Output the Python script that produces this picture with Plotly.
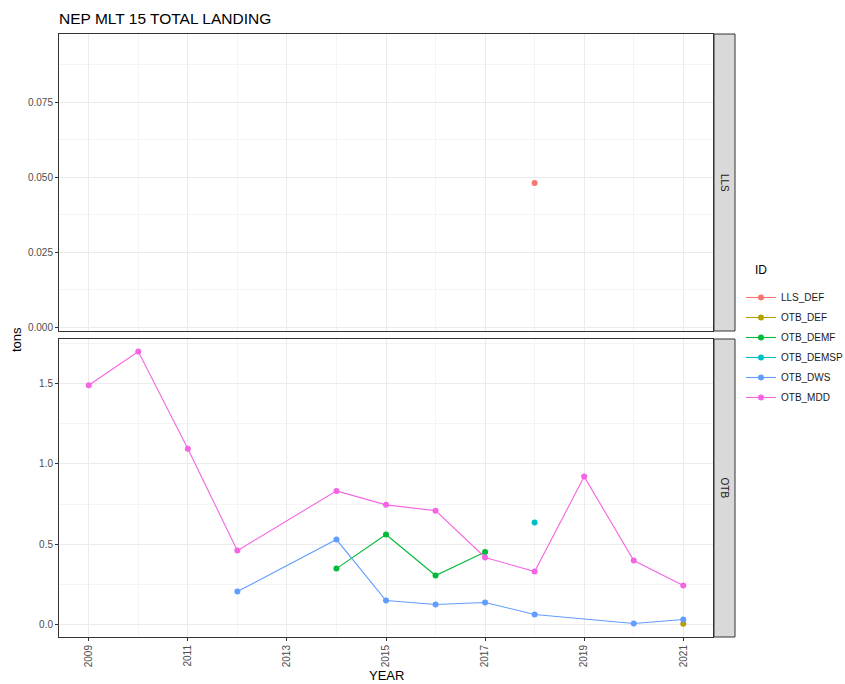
import plotly.graph_objects as go

# ---- data ----
series_ids = ["LLS_DEF", "OTB_DEF", "OTB_DEMF", "OTB_DEMSP", "OTB_DWS", "OTB_MDD"]
series_gear = ["LLS", "OTB", "OTB", "OTB", "OTB", "OTB"]
series_colors = ["#F8766D", "#B79F00", "#00BA38", "#00BFC4", "#619CFF", "#F564E3"]

lls_def_years = [2018]
lls_def_tons = [0.048]

otb_def_years = [2021]
otb_def_tons = [0.005]

otb_demf_years = [2014, 2015, 2016, 2017]
otb_demf_tons = [0.348, 0.560, 0.305, 0.452]

otb_demsp_years = [2018]
otb_demsp_tons = [0.635]

otb_dws_years = [2012, 2014, 2015, 2016, 2017, 2018, 2020, 2021]
otb_dws_tons = [0.205, 0.529, 0.149, 0.124, 0.137, 0.062, 0.006, 0.031]

otb_mdd_years = [2009, 2010, 2011, 2012, 2014, 2015, 2016, 2017, 2018, 2019, 2020, 2021]
otb_mdd_tons = [1.49, 1.70, 1.095, 0.46, 0.832, 0.745, 0.709, 0.417, 0.33, 0.921, 0.398, 0.243]

x_tick_vals = [2009, 2011, 2013, 2015, 2017, 2019, 2021]
x_tick_text = ["2009", "2011", "2013", "2015", "2017", "2019", "2021"]

series_x = [lls_def_years, otb_def_years, otb_demf_years, otb_demsp_years, otb_dws_years, otb_mdd_years]
series_y = [lls_def_tons, otb_def_tons, otb_demf_tons, otb_demsp_tons, otb_dws_tons, otb_mdd_tons]

W, H = 845, 684
FONT = "Liberation Sans, Arial, sans-serif"

fig = go.Figure()
for sid, gear, col, xs, ys in zip(series_ids, series_gear, series_colors, series_x, series_y):
    axes = dict(xaxis="x2", yaxis="y2") if gear == "LLS" else dict(xaxis="x", yaxis="y")
    fig.add_trace(go.Scatter(
        x=xs, y=ys, name=sid, mode="lines+markers", legendgroup=sid,
        line=dict(color=col, width=1.1),
        marker=dict(color=col, size=6),
        **axes
    ))

# panel geometry in page pixels
px_left, px_right = 59, 713
top_panel = (34, 331)
bot_panel = (339, 637)
strip = (714, 735)

def xd(p):
    return p / W

def yd(p):
    return 1 - p / H

grid = "#EBEBEB"
minor_grid = "#F4F4F4"
tickfont = dict(family=FONT, size=10, color="#4D4D4D")

common_x = dict(
    range=[2008.4, 2021.6], tickvals=x_tick_vals, ticktext=x_tick_text,
    showgrid=True, gridcolor=grid, gridwidth=1,
    minor=dict(tickvals=[2010, 2012, 2014, 2016, 2018, 2020], showgrid=True, gridcolor=minor_grid, gridwidth=1, ticks=""),
    showline=True, mirror=True, linecolor="#333333", linewidth=1,
    zeroline=False, domain=[xd(px_left), xd(px_right)],
)

fig.update_layout(
    width=W, height=H,
    margin=dict(l=0, r=0, t=0, b=0, autoexpand=False),
    paper_bgcolor="white", plot_bgcolor="white",
    font=dict(family=FONT, color="#1A1A1A"),
    showlegend=True,
    xaxis=dict(**common_x, anchor="y", ticks="outside", ticklen=3, tickcolor="#333333",
               tickangle=-90, tickfont=tickfont),
    xaxis2=dict(**common_x, anchor="y2", showticklabels=False, ticks=""),
    yaxis=dict(
        domain=[yd(bot_panel[1]), yd(bot_panel[0])], anchor="x",
        range=[-0.078, 1.778], tickvals=[0, 0.5, 1.0, 1.5], tickformat=".1f",
        showgrid=True, gridcolor=grid,
        minor=dict(tickvals=[0.25, 0.75, 1.25, 1.75], showgrid=True, gridcolor=minor_grid, ticks=""),
        showline=True, mirror=True, linecolor="#333333", linewidth=1,
        ticks="outside", ticklen=3, tickcolor="#333333", tickfont=tickfont, zeroline=False,
    ),
    yaxis2=dict(
        domain=[yd(top_panel[1]), yd(top_panel[0])], anchor="x2",
        range=[-0.0013, 0.0977], tickvals=[0, 0.025, 0.05, 0.075], tickformat=".3f",
        showgrid=True, gridcolor=grid,
        minor=dict(tickvals=[0.0125, 0.0375, 0.0625, 0.0875], showgrid=True, gridcolor=minor_grid, ticks=""),
        showline=True, mirror=True, linecolor="#333333", linewidth=1,
        ticks="outside", ticklen=3, tickcolor="#333333", tickfont=tickfont, zeroline=False,
    ),
    title=dict(text="NEP MLT 15 TOTAL LANDING", x=59 / W, xanchor="left",
               y=1 - 19 / H, yanchor="middle", yref="container", xref="container",
               font=dict(family=FONT, size=15.5, color="#000000")),
    legend=dict(
        title=dict(text=""),
        x=xd(741), y=yd(283), xanchor="left", yanchor="top",
        font=dict(family=FONT, size=10, color="#1A1A1A"),
        bgcolor="rgba(0,0,0,0)", itemwidth=30, tracegroupgap=1,
    ),
)

shapes = []
annotations = []
for (t, b), label in [(top_panel, "LLS"), (bot_panel, "OTB")]:
    shapes.append(dict(type="rect", xref="paper", yref="paper",
                       x0=xd(strip[0]), x1=xd(strip[1]), y0=yd(b), y1=yd(t),
                       fillcolor="#D9D9D9", line=dict(color="#333333", width=1), layer="above"))
    annotations.append(dict(text=label, xref="paper", yref="paper",
                            x=xd((strip[0] + strip[1]) / 2), y=yd((t + b) / 2),
                            xanchor="center", yanchor="middle",
                            showarrow=False, textangle=90,
                            font=dict(family=FONT, size=10, color="#1A1A1A")))

annotations.append(dict(text="ID", xref="paper", yref="paper", x=xd(753), y=yd(270),
                        xanchor="left", yanchor="middle", showarrow=False,
                        font=dict(family=FONT, size=12, color="#000000")))
annotations.append(dict(text="tons", xref="paper", yref="paper", x=xd(17), y=yd(340),
                        xanchor="center", yanchor="middle",
                        showarrow=False, textangle=-90,
                        font=dict(family=FONT, size=13, color="#000000")))
annotations.append(dict(text="YEAR", xref="paper", yref="paper", x=xd(386), y=yd(675),
                        xanchor="center", yanchor="middle",
                        showarrow=False,
                        font=dict(family=FONT, size=13, color="#000000")))

fig.update_layout(shapes=shapes, annotations=annotations)

fig.write_html(
    "out.html",
    config={"displayModeBar": False},
    post_script="document.body.style.margin='0';document.body.style.overflow='hidden';",
)
